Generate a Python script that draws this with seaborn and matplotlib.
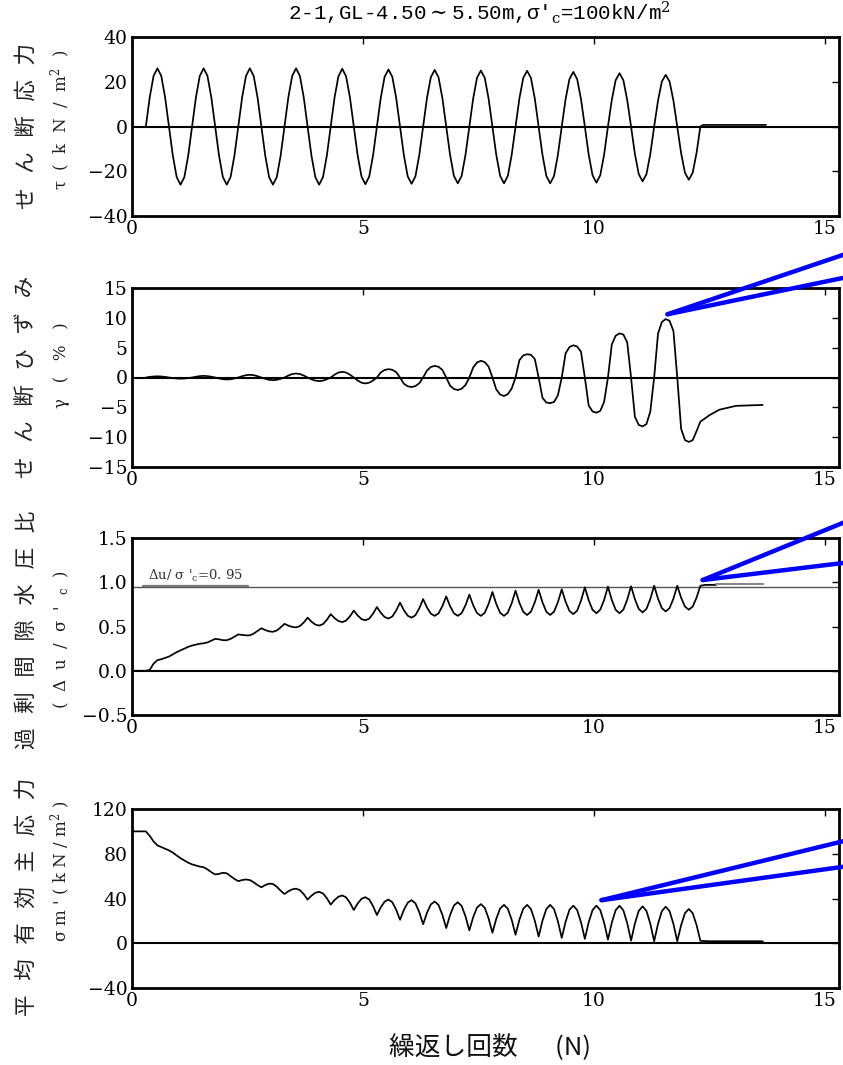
import numpy as np
import matplotlib
matplotlib.use("Agg")
import matplotlib.pyplot as plt
import seaborn as sns

sns.set_theme(style="white")
plt.rcParams['font.family'] = ['DejaVu Serif', 'Noto Sans CJK JP']
plt.rcParams['mathtext.fontset'] = 'dejavuserif'
plt.rcParams['axes.unicode_minus'] = True

# ---------------- data ----------------
# loading cycles sampled 12 times per cycle, N = 0.30 ... 12.30
N_grid = np.linspace(0.30, 12.30, 145)

tau = [
    0, 13, 22.6, 26, 22.6, 13, 0, -13, -22.6, -26, -22.6, -13,
    0, 13, 22.6, 26, 22.6, 13, 0, -13, -22.6, -26, -22.6, -13,
    0, 13, 22.6, 26, 22.6, 13, 0, -13, -22.6, -26, -22.6, -13,
    0, 13, 22.6, 26, 22.6, 13, 0, -13, -22.6, -26, -22.6, -13,
    0, 12.9, 22.4, 25.8, 22.4, 12.9, 0, -12.9, -22.4, -25.8, -22.4, -12.9,
    0, 12.8, 22.2, 25.5, 22.2, 12.8, 0, -12.8, -22.3, -25.6, -22.3, -12.8,
    0, 12.7, 22.0, 25.3, 22.0, 12.7, 0, -12.7, -22.1, -25.4, -22.1, -12.7,
    0, 12.5, 21.8, 25.0, 21.8, 12.5, 0, -12.7, -22.1, -25.4, -22.1, -12.7,
    0, 12.5, 21.7, 24.9, 21.7, 12.5, 0, -12.7, -22.1, -25.4, -22.1, -12.7,
    0, 12.2, 21.2, 24.4, 21.2, 12.2, 0, -12.6, -21.8, -25.1, -21.8, -12.6,
    0, 11.9, 20.7, 23.8, 20.7, 11.9, 0, -12.3, -21.3, -24.5, -21.3, -12.3,
    0, 11.6, 20.1, 23.1, 20.1, 11.6, 0, -11.9, -20.7, -23.8, -20.7, -11.9,
    0,
]
tau_tail_N = [12.36, 13.72]
tau_tail = [0.7, 0.7]

gamma = [
    0, .1, .17, .2, .17, .1, 0, -.1, -.17, -.2, -.17, -.1,
    0, .13, .23, .27, .23, .13, 0, -.16, -.29, -.33, -.29, -.16,
    0, .22, .39, .45, .39, .22, 0, -.22, -.39, -.45, -.39, -.22,
    0, .33, .58, .67, .58, .33, 0, -.3, -.52, -.6, -.52, -.3,
    0, .47, .83, .95, .83, .47, 0, -.5, -.87, -1.0, -.87, -.5,
    0, .84, 1.26, 1.4, 1.29, .91, 0, -1.04, -1.47, -1.6, -1.44, -.96,
    0, 1.17, 1.76, 1.95, 1.79, 1.27, 0, -1.37, -1.93, -2.1, -1.89, -1.26,
    0, 1.68, 2.52, 2.8, 2.58, 1.82, 0, -2.0, -2.85, -3.1, -2.79, -1.86,
    0, 2.9, 3.7, 3.9, 3.8, 3.1, 0, -3.4, -4.2, -4.3, -4.1, -3.0,
    0, 4.05, 5.1, 5.4, 5.2, 4.3, 0, -4.7, -5.7, -5.9, -5.6, -4.1,
    0, 5.55, 7.0, 7.4, 7.2, 5.9, 0, -6.6, -7.95, -8.2, -7.8, -5.7,
    0, 7.35, 9.3, 9.8, 9.5, 7.8, 0, -8.6, -10.5, -10.8, -10.5, -9.0,
    -7.4,
]
gamma_tail_N = [12.50, 12.71, 13.07, 13.65]
gamma_tail = [-6.3, -5.4, -4.75, -4.6]

ru_head_N = [0.0]
ru_head = [0.0]
ru = [
    0.0, 0.01, 0.08, 0.12, 0.13, 0.145, 0.16, 0.185, 0.21, 0.23, 0.25, 0.27,
    0.285, 0.295, 0.305, 0.31, 0.32, 0.34, 0.36, 0.355, 0.345, 0.345, 0.36, 0.385,
    0.41, 0.405, 0.40, 0.40, 0.42, 0.45, 0.48, 0.46, 0.445, 0.44, 0.455, 0.49,
    0.53, 0.51, 0.495, 0.49, 0.505, 0.545, 0.60, 0.555, 0.522, 0.51, 0.527, 0.575,
    0.64, 0.595, 0.562, 0.55, 0.567, 0.615, 0.68, 0.625, 0.584, 0.57, 0.589, 0.645,
    0.72, 0.655, 0.607, 0.59, 0.613, 0.68, 0.77, 0.685, 0.622, 0.60, 0.627, 0.705,
    0.81, 0.715, 0.645, 0.62, 0.649, 0.73, 0.84, 0.73, 0.649, 0.62, 0.651, 0.74,
    0.86, 0.74, 0.651, 0.62, 0.655, 0.755, 0.89, 0.755, 0.655, 0.62, 0.657, 0.763,
    0.905, 0.768, 0.666, 0.63, 0.667, 0.773, 0.915, 0.773, 0.667, 0.63, 0.668, 0.775,
    0.92, 0.78, 0.676, 0.64, 0.679, 0.792, 0.943, 0.797, 0.688, 0.65, 0.69, 0.80,
    0.95, 0.80, 0.689, 0.65, 0.69, 0.803, 0.955, 0.808, 0.698, 0.66, 0.699, 0.81,
    0.96, 0.815, 0.708, 0.67, 0.708, 0.815, 0.96, 0.825, 0.725, 0.69, 0.725, 0.825,
    0.96,
]
ru_tail_N = [12.40, 12.64]
ru_tail = [0.97, 0.97]
ru_tail2_N = [12.64, 13.66]
ru_tail2 = [0.975, 0.975]
ru_limit = 0.95

sm_head_N = [0.0]
sm_head = [100.0]
sm = [
    100, 96, 91, 87.5, 86, 84.5, 83, 81, 78.5, 76, 74, 72,
    70.5, 69.5, 68.5, 68, 66, 63.5, 61.5, 62, 63, 62.5, 60, 57.5,
    55.5, 56.5, 57, 56.5, 54.5, 52, 50, 52, 53.3, 53, 50.5, 47,
    44, 46.4, 48.2, 48.8, 47.5, 43.9, 39, 42.5, 45.1, 46, 44.5, 40.3,
    34.5, 38.6, 41.6, 42.7, 41.0, 36.2, 29.7, 35.5, 39.7, 41.2, 39.1, 33.2,
    25.2, 32.1, 37.2, 39, 36.7, 30, 21, 29.8, 36.2, 38.5, 35.7, 27.8,
    17, 27.2, 34.7, 37.3, 34.2, 25.5, 13.6, 25.2, 33.7, 36.7, 33.4, 24.1,
    11.5, 23.3, 31.9, 35, 31.7, 22.2, 9.4, 21.9, 31.1, 34.3, 30.8, 21,
    7.6, 21, 30.8, 34.3, 30.6, 20.2, 6.0, 20.2, 30.6, 34.3, 30.5, 19.6,
    4.8, 19.2, 29.9, 33.6, 29.7, 18.8, 3.9, 18.8, 29.7, 33.6, 29.7, 18.5,
    3.3, 18.4, 29.6, 33.5, 29.4, 18, 2.4, 17.7, 29, 33, 28.9, 17.4,
    1.8, 17.3, 28.7, 32.7, 28.7, 17.3, 1.8, 16.2, 26.9, 30.6, 26.9, 16.4,
    2.2,
]
sm_tail_N = [12.50, 13.65]
sm_tail = [1.8, 1.8]

# blue leader lines: start point, two end points (N, value)
callout_gamma = [(11.59, 10.6), (15.52, 20.9), (15.52, 16.9)]
callout_ru = [(12.35, 1.025), (15.52, 1.70), (15.52, 1.226)]
callout_sm = [(10.16, 38.5), (15.52, 92.5), (15.52, 69.1)]

x_ticks = [0, 5, 10, 15]
title = "2-1,GL-4.50$\\sim$5.50m,σ'$_{\\mathrm{c}}$=100kN/m$^{2}$"
xlabel = "繰返し回数　  (N)"

panels = [
    dict(ylim=(-40, 40), yticks=[-40, -20, 0, 20, 40], fmt="{:.0f}",
         lab1="せ   ん   断   応   力", lab2="τ  (  k  N  /  m$^{2}$  )"),
    dict(ylim=(-15, 15), yticks=[-15, -10, -5, 0, 5, 10, 15], fmt="{:.0f}",
         lab1="せ   ん   断   ひ   ず   み", lab2="γ   (   %   )"),
    dict(ylim=(-0.5, 1.5), yticks=[-0.5, 0.0, 0.5, 1.0, 1.5], fmt="{:.1f}",
         lab1="過   剰   間   隙   水   圧   比", lab2="(  Δ  u  /  σ  '  $_{\\mathrm{c}}$  )"),
    dict(ylim=(-40, 120), yticks=[-40, 0, 40, 80, 120], fmt="{:.0f}",
         lab1="平   均   有   効   主   応   力", lab2="σ m ' ( k N / m$^{2}$ )"),
]

# ---------------- figure ----------------
W, H = 843, 1065
fig = plt.figure(figsize=(W / 100, H / 100), dpi=100)
fig.patch.set_facecolor('white')

boxes_px = [(37, 216), (288, 467), (538, 715), (809, 988)]
left_px, right_px = 132, 839
label_centers = [(126, 120), (377, 365), (630, 640), (897, 871)]

axes = []
for (top, bot), p in zip(boxes_px, panels):
    ax = fig.add_axes([left_px / W, 1 - bot / H, (right_px - left_px) / W, (bot - top) / H])
    ax.set_facecolor('white')
    ax.set_xlim(0, 15.3)
    ax.set_ylim(*p["ylim"])
    ax.set_xticks(x_ticks)
    ax.set_xticklabels([str(t) for t in x_ticks])
    ax.set_yticks(p["yticks"])
    ax.set_yticklabels([p["fmt"].format(t).replace("-", "\u2212") for t in p["yticks"]])
    ax.tick_params(direction='in', top=True, right=True, length=5, width=1,
                   labelsize=13.5, pad=3, colors='black')
    for s in ax.spines.values():
        s.set_linewidth(2.0)
        s.set_color('black')
    ax.grid(False)
    ax.axhline(0, color='black', lw=1.5, zorder=1)
    axes.append(ax)

ax1, ax2, ax3, ax4 = axes
lw = 1.25

sns.lineplot(x=np.concatenate([N_grid, tau_tail_N]), y=np.concatenate([tau, tau_tail]),
             ax=ax1, color='black', linewidth=lw, sort=False, estimator=None)
sns.lineplot(x=np.concatenate([N_grid, gamma_tail_N]), y=np.concatenate([gamma, gamma_tail]),
             ax=ax2, color='black', linewidth=lw, sort=False, estimator=None)
sns.lineplot(x=np.concatenate([ru_head_N, N_grid, ru_tail_N]), y=np.concatenate([ru_head, ru, ru_tail]),
             ax=ax3, color='black', linewidth=lw, sort=False, estimator=None)
sns.lineplot(x=ru_tail2_N, y=ru_tail2, ax=ax3, color='#888888', linewidth=1.5,
             sort=False, estimator=None)
sns.lineplot(x=np.concatenate([sm_head_N, N_grid, sm_tail_N]), y=np.concatenate([sm_head, sm, sm_tail]),
             ax=ax4, color='black', linewidth=lw, sort=False, estimator=None)

# Δu/σ'c = 0.95 reference line
ax3.axhline(ru_limit, color='#555555', lw=1.0, zorder=1)
ax3.plot([0.24, 2.51], [ru_limit + 0.008, ru_limit + 0.008], color='#777777', lw=1.6)
ax3.text(0.35, ru_limit + 0.035, "Δu/ σ '$_{\\mathrm{c}}$=0. 95", fontsize=9.5, color='#333333',
         ha='left', va='bottom')

# blue leader lines
for ax, c in [(ax2, callout_gamma), (ax3, callout_ru), (ax4, callout_sm)]:
    (x0, y0), (x1, y1), (x2, y2) = c
    ax.plot([x0, x1], [y0, y1], color='#0000ff', lw=3.2, clip_on=False, zorder=5)
    ax.plot([x0, x2], [y0, y2], color='#0000ff', lw=3.2, clip_on=False, zorder=5)

# y-axis labels (two vertical lines each)
for (c1, c2), p in zip(label_centers, panels):
    fig.text(27 / W, 1 - c1 / H, p["lab1"], rotation=90, ha='center', va='center',
             fontsize=15.5, family=['Noto Sans CJK JP'], color='#222222')
    fig.text(61 / W, 1 - c2 / H, p["lab2"], rotation=90, ha='center', va='center',
             fontsize=12, family=['DejaVu Serif', 'Noto Sans CJK JP'], color='#222222')

fig.text(479 / W, 1 - 13 / H, title, ha='center', va='center', fontsize=15,
         family=['Liberation Mono'], color='black')
fig.text(490 / W, 1 - 1048 / H, xlabel, ha='center', va='center', fontsize=18.5,
         family=['Noto Sans CJK JP'], color='#111111')

fig.savefig("out.png", dpi=100, facecolor='white')
